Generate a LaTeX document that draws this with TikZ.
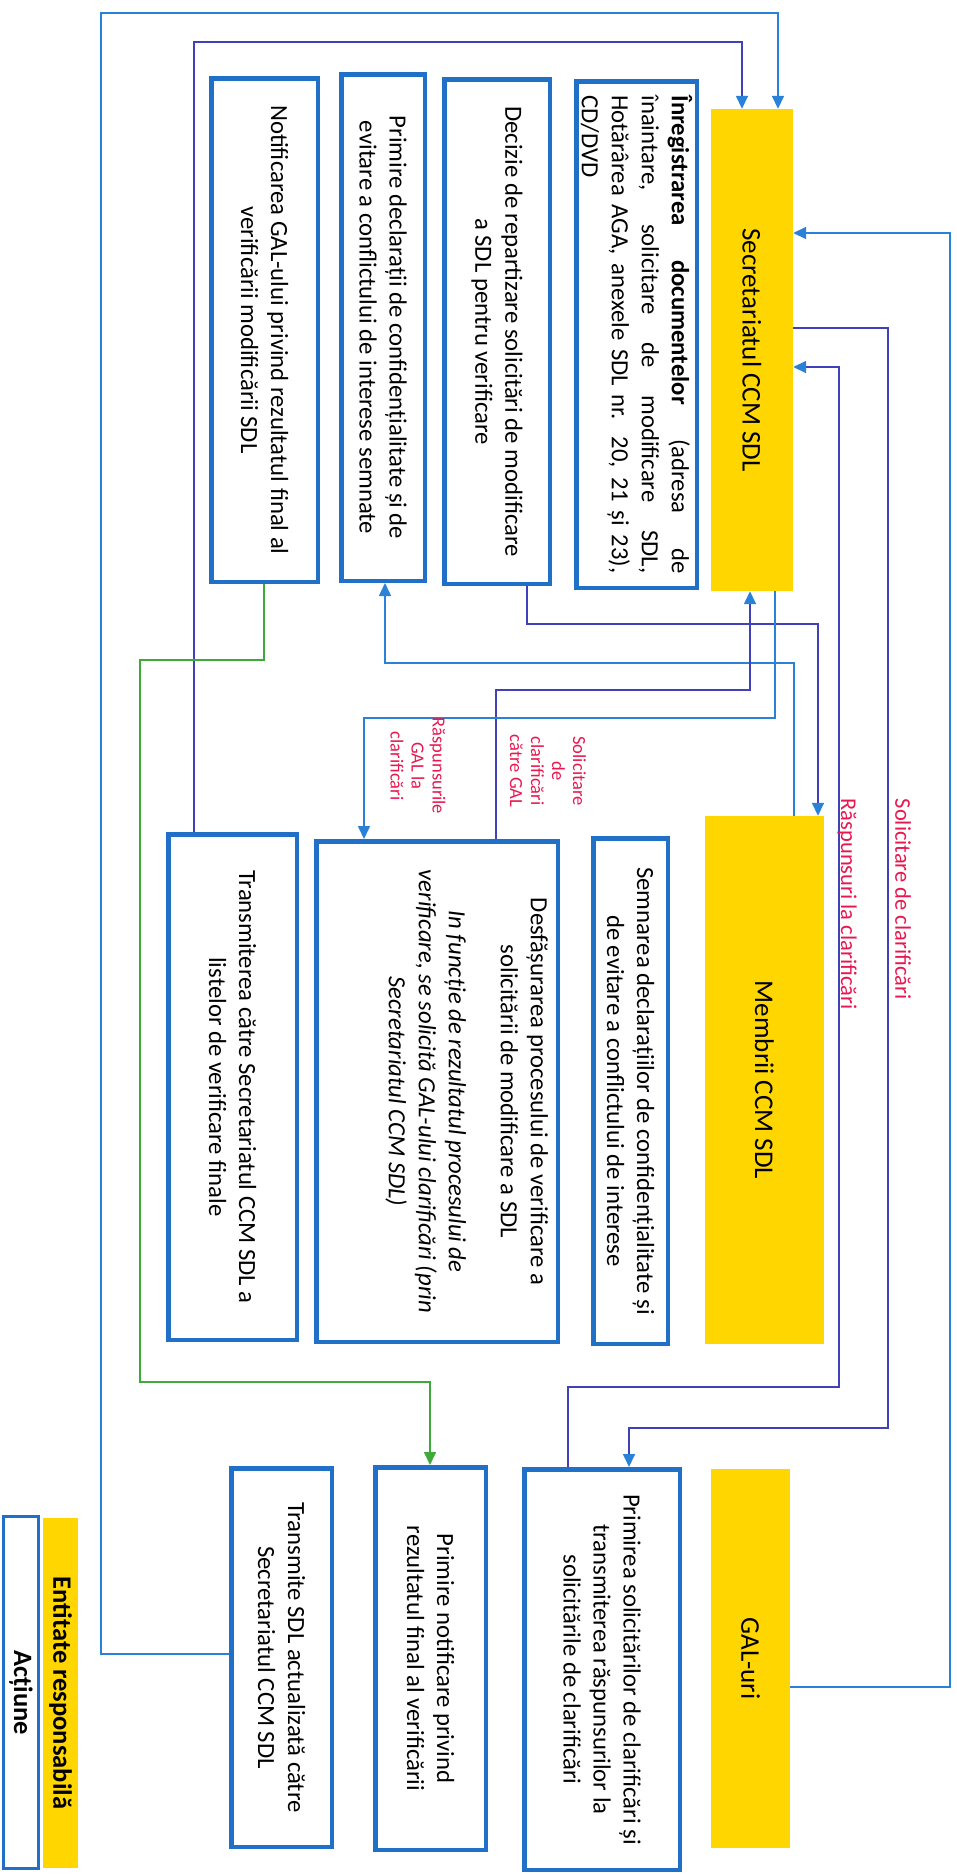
\documentclass[tikz,border=0pt]{standalone}
\usepackage{fontspec}
\usepackage{graphicx}
\setmainfont{Carlito}
\usetikzlibrary{arrows.meta}
\definecolor{entyellow}{HTML}{FFD600}
\definecolor{actblue}{HTML}{2070C8}
\definecolor{lineblue}{HTML}{2A82D8}
\definecolor{linepurple}{HTML}{4040B8}
\definecolor{linegreen}{HTML}{3DAA3A}
\definecolor{labred}{HTML}{E8174F}
\newcommand{\rtext}[2]{\rotatebox{-90}{\parbox{#1}{\centering #2}}}
\begin{document}
\begin{tikzpicture}[x=1pt,y=-1pt,
  entity/.style={fill=entyellow, draw=none, inner sep=0pt, font=\fontsize{27}{32}\selectfont},
  actbox/.style={draw=actblue, line width=4.5pt, fill=white, inner sep=0pt, font=\fontsize{24.7}{30}\selectfont},
  conn/.style={line width=1.6pt, -{Triangle[length=13pt,width=12pt,color=lineblue]}},
  cblue/.style={conn, draw=lineblue},
  cpurple/.style={conn, draw=linepurple},
  cgreen/.style={conn, draw=linegreen, -{Triangle[length=13pt,width=12pt,color=linegreen]}},
  biglab/.style={rotate=-90, text=labred, inner sep=0pt, font=\fontsize{22.5}{26}\selectfont},
  smalllab/.style={rotate=-90, text=labred, inner sep=0pt, align=center, font=\fontsize{18.5}{21}\selectfont}]
\useasboundingbox (0,0) rectangle (957,1875);

% entities
\node[entity, minimum width=82pt, minimum height=482pt] (sec) at (752,350) {\rotatebox{-90}{Secretariatul CCM SDL}};
\node[entity, minimum width=119pt, minimum height=528pt] (mem) at (764.5,1080) {\rotatebox{-90}{Membrii CCM SDL}};
\node[entity, minimum width=79pt, minimum height=379pt] (gal) at (750.5,1658.5) {\rotatebox{-90}{GAL-uri}};

% Secretariat actions
\node[actbox, minimum width=120.5pt, minimum height=506.5pt] (inreg) at (636.5,334.5) {\rotatebox{-90}{\parbox{478pt}{%
\makebox[\linewidth][s]{\textbf{Înregistrarea documentelor} (adresa de}\\
\makebox[\linewidth][s]{înaintare, solicitare de modificare SDL,}\\
\makebox[\linewidth][s]{Hotărârea AGA, anexele SDL nr. 20, 21 și 23),}\\
CD/DVD}}};
\node[actbox, minimum width=105.5pt, minimum height=504.5pt] (decizie) at (497,331.5)
  {\rtext{495pt}{Decizie de repartizare solicitări de modificare\\a SDL pentru verificare}};
\node[actbox, minimum width=83.5pt, minimum height=506.5pt] (primdecl) at (383,327.5)
  {\rtext{495pt}{Primire declarații de confidențialitate și de\\evitare a conflictului de interese semnate}};
\node[actbox, minimum width=106.5pt, minimum height=503.5pt] (notif) at (264.5,330)
  {\rtext{495pt}{Notificarea GAL-ului privind rezultatul final al\\verificării modificării SDL}};

% Membri actions
\node[actbox, minimum width=74.5pt, minimum height=505.5pt] (semn) at (630.5,1091)
  {\rtext{495pt}{Semnarea declarațiilor de confidențialitate și\\de evitare a conflictului de interese}};
\node[actbox, minimum width=241.5pt, minimum height=500.5pt] (desf) at (437,1091.5)
  {\rotatebox{-90}{\parbox[c][222pt][t]{490pt}{\centering Desfășurarea procesului de verificare a\\solicitării de modificare a SDL\\[22pt]
  \itshape In funcție de rezultatul procesului de\\verificare, se solicită GAL-ului clarificări (prin\\Secretariatul CCM SDL)}}};
\node[actbox, minimum width=128.5pt, minimum height=505.5pt] (transm) at (232.5,1087)
  {\rtext{495pt}{Transmiterea către Secretariatul CCM SDL a\\listelor de verificare finale}};

% GAL actions
\node[actbox, minimum width=155.5pt, minimum height=400.5pt] (primsol) at (602,1669.5)
  {\rtext{390pt}{Primirea solicitărilor de clarificări și\\transmiterea răspunsurilor la\\solicitările de clarificări}};
\node[actbox, minimum width=110.5pt, minimum height=382.5pt] (primnotif) at (430.5,1658.5)
  {\rtext{370pt}{Primire notificare privind\\rezultatul final al verificării}};
\node[actbox, minimum width=100.5pt, minimum height=378.5pt] (transmsdl) at (281.5,1657.5)
  {\rtext{370pt}{Transmite SDL actualizată către\\Secretariatul CCM SDL}};

% legend
\node[draw=actblue, line width=3pt, fill=white, inner sep=0pt, minimum width=35pt, minimum height=352pt,
  font=\fontsize{26.5}{30}\selectfont] (legact) at (21,1692.5) {\rotatebox{-90}{\textbf{Acțiune}}};
\node[entity, minimum width=35pt, minimum height=350pt, font=\fontsize{26.5}{30}\selectfont] (legent) at (60.5,1693)
  {\rotatebox{-90}{\textbf{Entitate responsabilă}}};

% connectors
\draw[cblue] (transmsdl.west |- 0,1654) -| (101,13) -| (sec.north -| 778,0);
\draw[cpurple] (transm.north -| 194,0) |- (742,42) -- (sec.north -| 742,0);
\draw[cgreen] (notif.south -| 264,0) |- (140,660) |- (430,1382) -- (primnotif.north -| 430,0);
\draw[cpurple] (sec.east |- 0,328) -| (888,1428) -| (primsol.north -| 629,0);
\draw[cpurple] (primsol.north -| 568,0) |- (839,1387) |- (sec.east |- 0,367);
\draw[cblue] (gal.east |- 0,1687) -| (950,233) -- (sec.east |- 0,233);
\draw[cpurple] (decizie.south -| 527,0) |- (818,624) -- (mem.north -| 818,0);
\draw[cblue] (mem.north -| 794,0) |- (385,663) -- (primdecl.south -| 385,0);
\draw[cpurple] (desf.north -| 496,0) |- (750,690) -- (sec.south -| 750,0);
\draw[cblue] (sec.south -| 775,0) |- (364,718) -- (desf.north -| 364,0);

% labels
\node[biglab] (labsol) at (903,899) {Solicitare de clarificări};
\node[biglab] (labrasp) at (847,904) {Răspunsuri la clarificări};
\node[smalllab] (labsolgal) at (548,771) {Solicitare\\de\\clarificări\\către GAL};
\node[smalllab] (labraspgal) at (418,766) {Răspunsurile\\GAL la\\clarificări};
\end{tikzpicture}
\end{document}
